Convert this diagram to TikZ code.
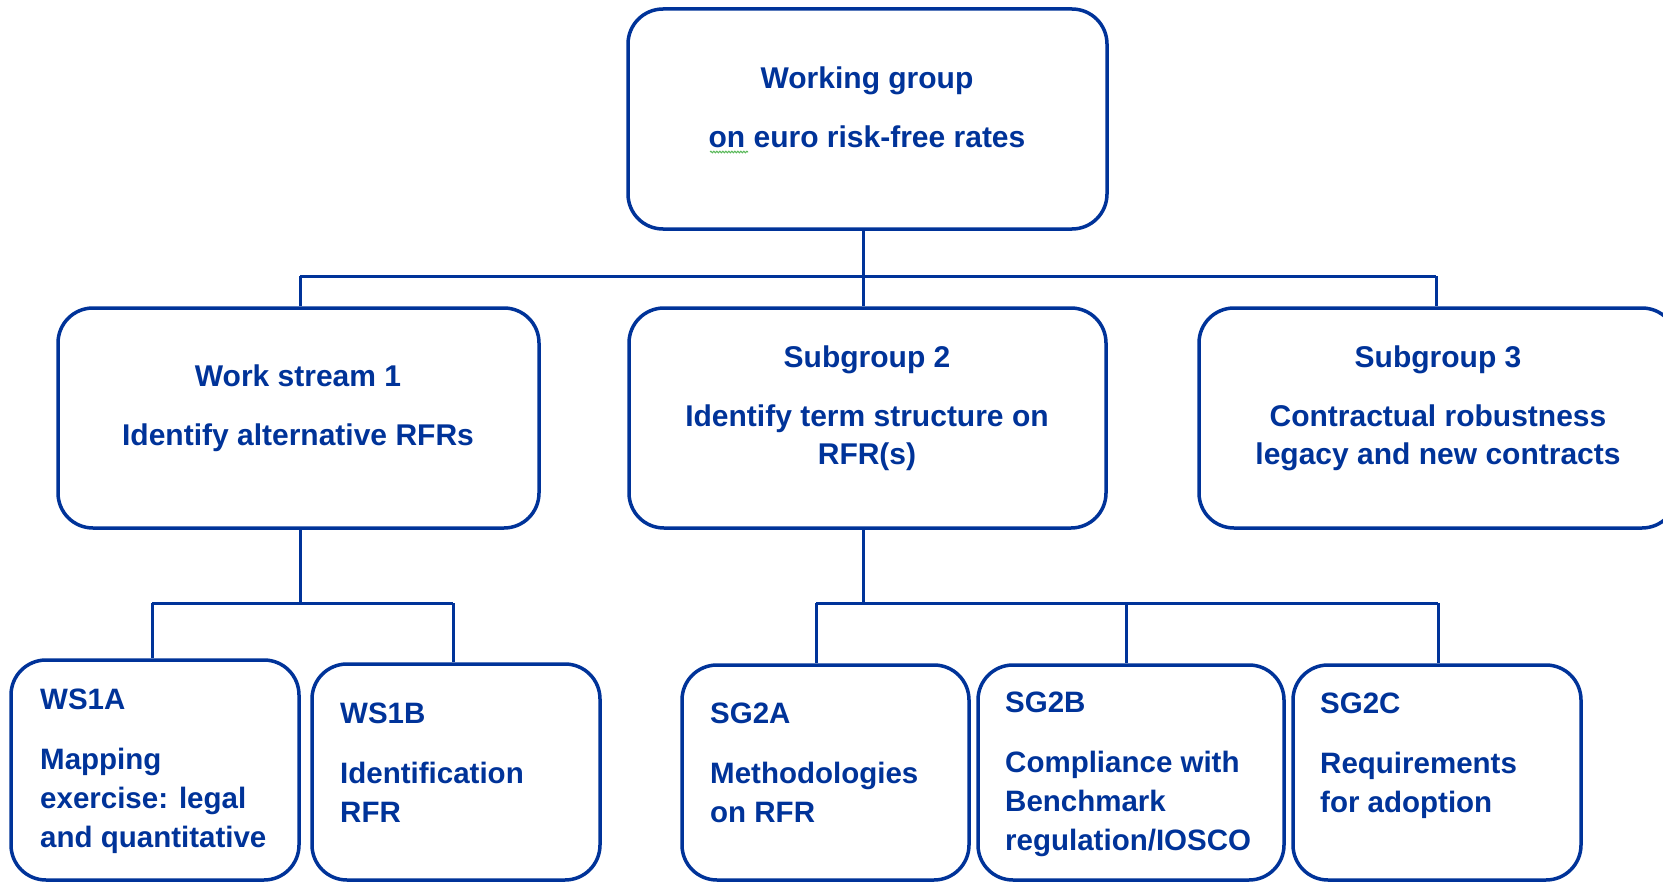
\documentclass[tikz,border=0pt]{standalone}
\usepackage{fontspec}
\setmainfont{Liberation Sans}
\usetikzlibrary{decorations.pathmorphing}
\definecolor{ecb}{RGB}{0,51,153}
\definecolor{spell}{RGB}{90,185,90}
\begin{document}
\begin{tikzpicture}[x=1pt,y=-1pt,
  box/.style={draw=ecb,line width=3.5pt,rounded corners=35pt,inner sep=0pt},
  link/.style={draw=ecb,line width=3pt},
  ctext/.style={text=ecb,font=\bfseries\fontsize{30}{38}\selectfont,align=center,inner sep=0pt,anchor=base},
  ltext/.style={text=ecb,font=\bfseries\fontsize{29.5}{39}\selectfont,align=left,inner sep=0pt,anchor=base west}]
\useasboundingbox (0,0) rectangle (1663,883);
\fill[white] (0,0) rectangle (1663,883);

% boxes
\node[box,minimum width=479pt,minimum height=220pt] (top) at (867.5,119) {};
\node[box,minimum width=481pt,minimum height=220pt] (ws1) at (298.5,418) {};
\node[box,minimum width=477pt,minimum height=220pt] (sg2) at (867.5,418) {};
\node[box,minimum width=478pt,minimum height=220pt] (sg3) at (1438,418) {};
\node[box,minimum width=288pt,minimum height=220pt] (ws1a) at (155,770) {};
\node[box,minimum width=288pt,minimum height=216pt] (ws1b) at (456,772) {};
\node[box,minimum width=287pt,minimum height=215pt] (sg2a) at (825.5,772.5) {};
\node[box,minimum width=306pt,minimum height=215pt] (sg2b) at (1131,772.5) {};
\node[box,minimum width=288pt,minimum height=215pt] (sg2c) at (1437,772.5) {};

% texts (anchored at the baseline of the last line)
\node[ctext] (ttop) at (867,147) {Working group\\[21pt]on euro risk-free rates};
\node[ctext] (tws1) at (298,445) {Work stream 1\\[21pt]Identify alternative RFRs};
\node[ctext] (tsg2) at (867,464) {Subgroup 2\\[21pt]Identify term structure on\\RFR(s)};
\node[ctext] (tsg3) at (1438,464) {Subgroup 3\\[21pt]Contractual robustness\\legacy and new contracts};
\node[ltext] (tws1a) at (40,847) {WS1A\\[21pt]Mapping\\exercise: legal\\and quantitative};
\node[ltext] (tws1b) at (340,822) {WS1B\\[21pt]Identification\\RFR};
\node[ltext] (tsg2a) at (710,822) {SG2A\\[21pt]Methodologies\\on RFR};
\node[ltext] (tsg2b) at (1005,850) {SG2B\\[21pt]Compliance with\\Benchmark\\regulation/IOSCO};
\node[ltext] (tsg2c) at (1320,812) {SG2C\\[21pt]Requirements\\for adoption};

% spell-check underline
\draw[spell,line width=1pt,decorate,decoration={snake,amplitude=0.8pt,segment length=3pt}] (710,152) -- (748,152);

% top level connectors
\coordinate (bus1) at (300,276);
\coordinate (bus3) at (1436,276);
\coordinate (tr) at (863,276);
\draw[link] (bus1) -- (bus3);
\draw[link] (tr |- top.south) -- (tr |- sg2.north);
\draw[link] (bus1) -- (bus1 |- ws1.north);
\draw[link] (bus3) -- (bus3 |- sg3.north);

% work stream 1 tree
\coordinate (w) at (300,603);
\coordinate (wa) at (152,603);
\coordinate (wb) at (453,603);
\draw[link] (w |- ws1.south) -- (w);
\draw[link] (wa) -- (wb);
\draw[link] (wa) -- (wa |- ws1a.north);
\draw[link] (wb) -- (wb |- ws1b.north);

% subgroup 2 tree
\coordinate (s) at (863,603);
\coordinate (sa) at (816,603);
\coordinate (sb) at (1126,603);
\coordinate (sc) at (1438,603);
\draw[link] (s |- sg2.south) -- (s);
\draw[link] (sa) -- (sc);
\draw[link] (sa) -- (sa |- sg2a.north);
\draw[link] (sb) -- (sb |- sg2b.north);
\draw[link] (sc) -- (sc |- sg2c.north);
\end{tikzpicture}
\end{document}
